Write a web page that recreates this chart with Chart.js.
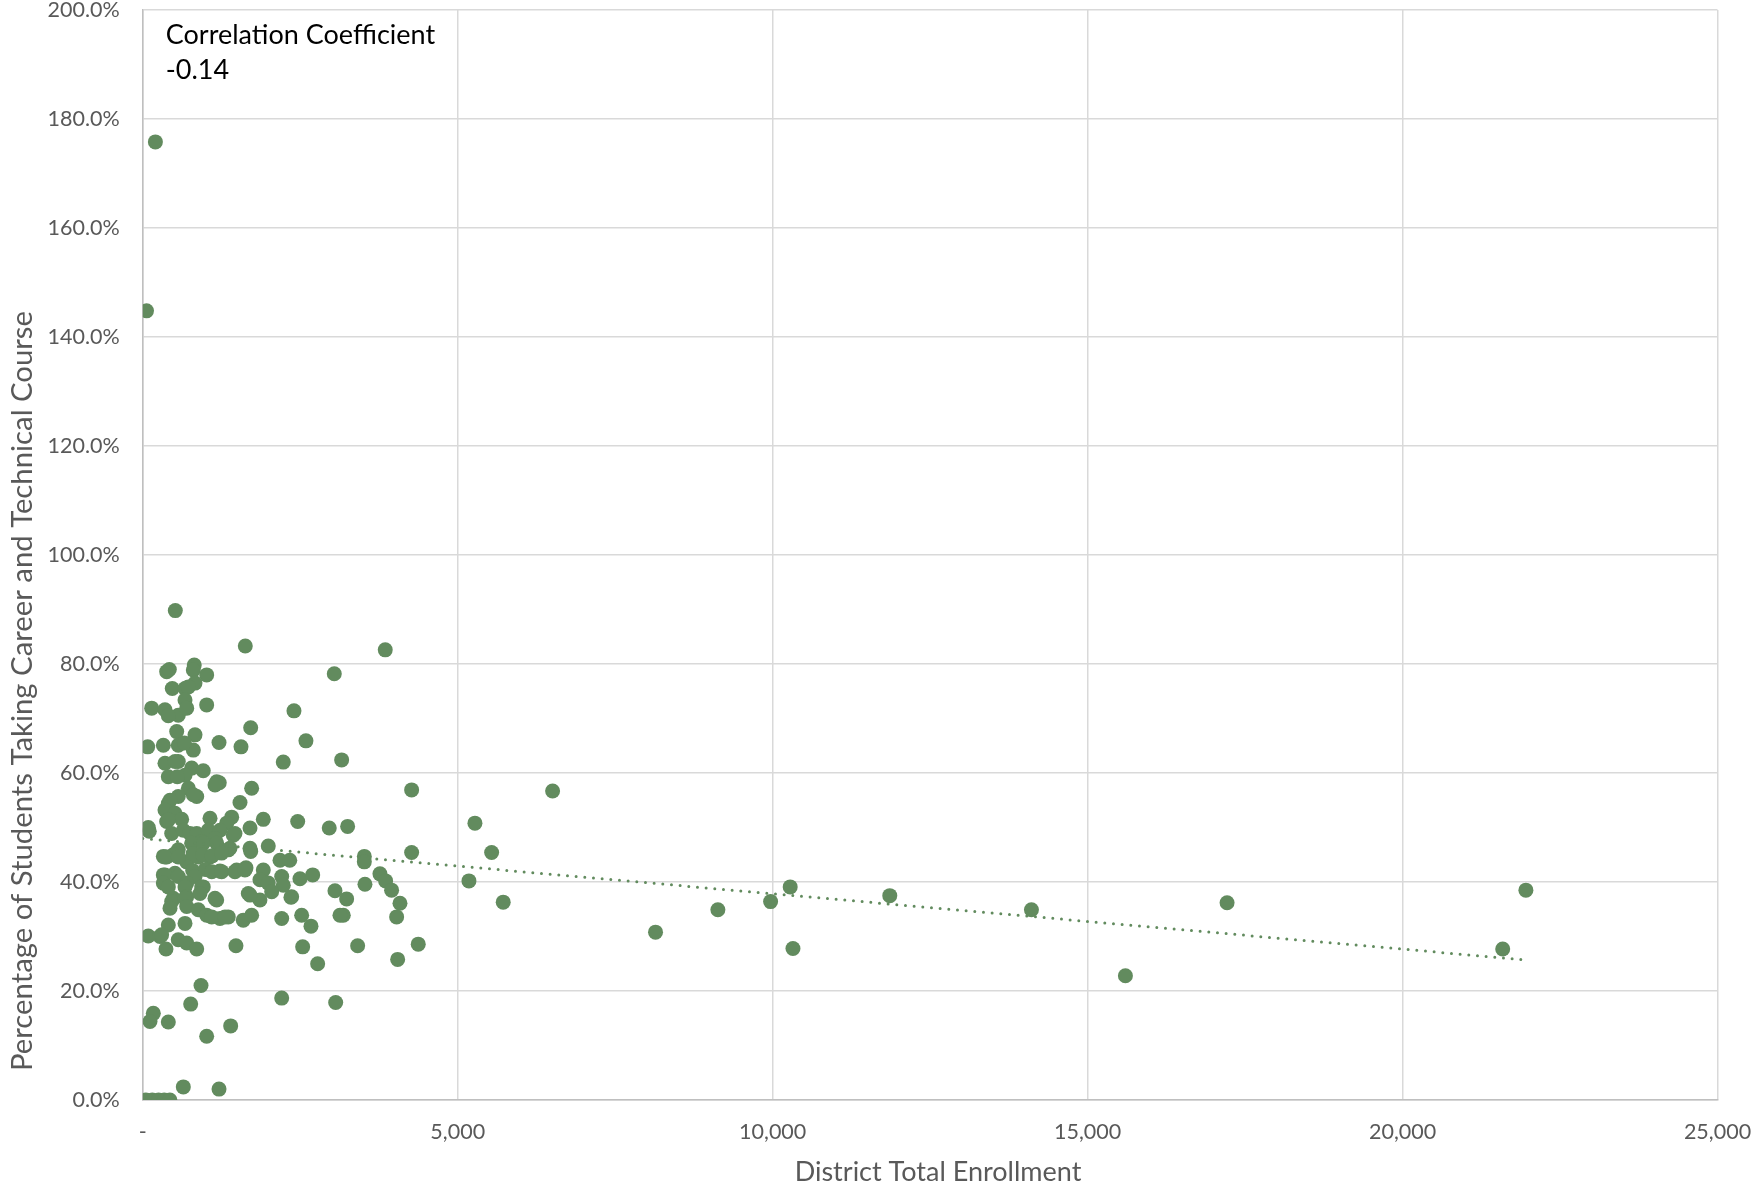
<!DOCTYPE html>
<html>
<head>
<meta charset="utf-8">
<script src="https://cdn.jsdelivr.net/npm/chart.js@4.4.1/dist/chart.umd.min.js"></script>
<style>
  html, body { margin: 0; padding: 0; background: #ffffff; }
  #wrap { width: 1753px; height: 1192px; }
</style>
</head>
<body>
<div id="wrap"><canvas id="chart" width="1753" height="1192"></canvas></div>
<script>
// District total enrollment (students)
const enrollment = [
  200, 59,
  516, 1627, 3849, 379, 421, 817, 802, 1014, 3040, 468, 670, 829, 723, 670,
  141, 352, 563, 697, 1014, 2400, 405,
  1713, 538, 829, 78, 326, 563, 802, 660, 1210, 1559, 2590, 2230, 3157,
  352, 563, 776, 960, 405, 670, 511, 548,
  1173, 1214, 1728, 723, 856, 4268, 6506, 1543, 405, 563, 802, 1146, 432, 352, 511, 379, 617,
  405, 1067, 1411, 1332, 1913, 2459, 5273, 87, 103, 1702, 2960, 3252,
  459, 643, 749, 856, 1040, 1225, 1437, 1463, 935, 1146, 776, 960, 1173, 1384, 1702, 1992,
  379, 563, 697, 881, 1067, 1357, 2178, 2333, 4268, 5538, 3517, 3517, 326, 484, 1713, 352, 563,
  800, 950, 1100, 1250,
  326, 511, 792, 992, 1225, 1490, 1638, 1913, 1860, 352, 563, 829, 1094, 1252, 1463, 1622,
  2205, 2495, 2697, 3765, 3855, 5178, 10278, 1992, 2230,
  326, 697, 960, 405, 670, 935,
  484, 697, 908, 1173, 1675, 1860, 2046, 2352, 3051, 3236, 3527, 3950, 4083, 1702, 2363,
  459, 670, 1146,
  432, 697, 881, 1014, 1225, 1357, 1595, 1728, 2205, 2522, 2670, 3183, 4030, 1094, 1305, 3130,
  405, 670,
  5722, 8140, 9130, 9967, 11859, 14108, 17214, 21958,
  87, 273, 299, 563,
  368, 697, 856, 1479, 2538, 3411, 4373, 4046, 2776, 10322, 21590, 15600, 924,
  760, 2205, 3062, 167, 114, 405, 1014, 1395, 643, 1210,
  50, 150, 250, 340, 430
];

// Percentage of students taking a career and technical course (%)
const ctePercent = [
  175.8, 144.8,
  89.8, 83.3, 82.6, 78.6, 79.0, 79.8, 78.9, 78.0, 78.2, 75.5, 75.5, 76.5, 75.8, 73.4,
  71.9, 71.6, 70.6, 71.9, 72.5, 71.4, 70.5,
  68.3, 67.6, 67.0, 64.8, 65.1, 65.1, 64.2, 65.5, 65.6, 64.8, 65.9, 62.0, 62.4,
  61.8, 62.1, 60.9, 60.4, 59.3, 59.6, 62.1, 59.3,
  58.4, 58.2, 57.2, 57.2, 55.7, 56.9, 56.7, 54.6, 54.4, 55.7, 56.0, 57.8, 55.0, 53.2, 52.6, 51.1, 51.5,
  51.4, 51.7, 51.9, 50.8, 51.5, 51.1, 50.8, 50.0, 49.3, 49.9, 49.9, 50.2,
  48.9, 49.5, 48.9, 48.9, 49.5, 49.5, 48.6, 48.9, 47.4, 48.0, 47.1, 47.1, 47.1, 46.2, 46.2, 46.6,
  44.6, 45.9, 43.7, 44.6, 44.6, 45.9, 44.0, 44.0, 45.4, 45.4, 44.7, 43.7, 44.7, 45.0, 45.6, 44.6, 44.6,
  45.2, 45.0, 44.8, 45.3,
  41.3, 41.6, 42.1, 42.3, 42.0, 42.2, 42.6, 42.2, 40.4, 41.3, 41.0, 41.0, 41.9, 41.9, 41.9, 42.2,
  41.0, 40.6, 41.3, 41.5, 40.2, 40.2, 39.1, 39.8, 39.4,
  39.8, 39.8, 39.1, 39.1, 39.1, 39.1,
  37.0, 37.3, 37.9, 36.7, 37.9, 36.7, 38.2, 37.2, 38.4, 36.9, 39.6, 38.5, 36.1, 37.6, 37.3,
  36.4, 37.0, 37.0,
  35.2, 35.5, 34.9, 33.9, 33.3, 33.6, 33.0, 33.9, 33.3, 33.9, 31.9, 33.9, 33.6, 33.6, 33.6, 33.9,
  32.1, 32.4,
  36.3, 30.8, 34.9, 36.4, 37.5, 34.9, 36.2, 38.5,
  30.1, 30.0, 30.3, 29.4,
  27.7, 28.8, 27.7, 28.3, 28.1, 28.3, 28.6, 25.8, 25.0, 27.8, 27.7, 22.8, 21.0,
  17.6, 18.7, 17.9, 15.9, 14.4, 14.3, 11.7, 13.6, 2.4, 2.0,
  0, 0, 0, 0, 0
];

// Linear trendline end points (enrollment, %)
const trendEnrollment = [0, 21958];
const trendPercent = [48.0, 25.7];

// Axis ticks
const xTicks = [0, 5000, 10000, 15000, 20000, 25000];
const yTicks = [0, 20, 40, 60, 80, 100, 120, 140, 160, 180, 200];

const correlationLines = ['Correlation Coefficient', '-0.14'];
const xTitle = 'District Total Enrollment';
const yTitle = 'Percentage of Students Taking Career and Technical Course';

const GREEN = '#628B5E';
const TICK_COLOR = '#595959';
const GRID_COLOR = '#D9D9D9';
const FONT = 'Lato, "Noto Sans", sans-serif';

const points = enrollment.map((x, i) => ({ x: x, y: ctePercent[i] }));
const trend = trendEnrollment.map((x, i) => ({ x: x, y: trendPercent[i] }));

// Axis titles and the correlation note in the top-left corner of the plot
const textPlugin = {
  id: 'extraText',
  afterDraw(chart) {
    const ctx = chart.ctx;
    const area = chart.chartArea;

    ctx.save();
    ctx.fillStyle = TICK_COLOR;
    ctx.font = '29.3px ' + FONT;
    ctx.textAlign = 'center';
    ctx.textBaseline = 'middle';
    ctx.translate(23, 691);
    ctx.rotate(-Math.PI / 2);
    ctx.fillText(yTitle, 0, 0);
    ctx.restore();

    ctx.save();
    ctx.fillStyle = TICK_COLOR;
    ctx.font = '27px ' + FONT;
    ctx.textAlign = 'center';
    ctx.textBaseline = 'middle';
    ctx.fillText(xTitle, 938, 1172);
    ctx.restore();

    ctx.save();
    ctx.fillStyle = '#000000';
    ctx.font = '27px ' + FONT;
    ctx.textAlign = 'left';
    ctx.textBaseline = 'middle';
    correlationLines.forEach((t, i) => {
      ctx.fillText(t, area.left + 23, 35 + i * 35);
    });
    ctx.restore();
  }
};

function noOverflowPadding(scale) {
  scale.paddingLeft = 0;
  scale.paddingRight = 0;
  scale.paddingTop = 0;
  scale.paddingBottom = 0;
}

new Chart(document.getElementById('chart'), {
  type: 'scatter',
  data: {
    datasets: [
      {
        label: 'Trend',
        data: trend,
        showLine: true,
        borderColor: GREEN,
        borderWidth: 3,
        borderDash: [0, 8.7],
        borderCapStyle: 'round',
        pointRadius: 0,
        fill: false,
        order: 0
      },
      {
        label: 'Districts',
        data: points,
        backgroundColor: GREEN,
        borderWidth: 0,
        pointRadius: 7.5,
        pointHoverRadius: 7.5,
        order: 1
      }
    ]
  },
  options: {
    responsive: false,
    animation: false,
    devicePixelRatio: 1,
    layout: { padding: { left: 0, right: 35.5, top: 10, bottom: 0 } },
    plugins: {
      legend: { display: false },
      tooltip: { enabled: false }
    },
    scales: {
      x: {
        type: 'linear',
        min: 0,
        max: 25000,
        afterBuildTicks(scale) { scale.ticks = xTicks.map(v => ({ value: v })); },
        afterFit(scale) { scale.height = 92; noOverflowPadding(scale); },
        grid: { color: GRID_COLOR, lineWidth: 1.5, drawTicks: false },
        border: { color: '#BFBFBF', width: 1.5 },
        ticks: {
          color: TICK_COLOR,
          font: { family: FONT, size: 21.5 },
          padding: 19,
          maxRotation: 0,
          callback: v => v === 0 ? '-' : v.toLocaleString('en-US')
        }
      },
      y: {
        type: 'linear',
        min: 0,
        max: 200,
        afterBuildTicks(scale) { scale.ticks = yTicks.map(v => ({ value: v })); },
        afterFit(scale) { scale.width = 142.8; noOverflowPadding(scale); },
        grid: { color: GRID_COLOR, lineWidth: 1.5, drawTicks: false },
        border: { color: '#BFBFBF', width: 1.5 },
        ticks: {
          color: TICK_COLOR,
          font: { family: FONT, size: 21.5 },
          padding: 23,
          callback: v => v.toFixed(1) + '%'
        }
      }
    }
  },
  plugins: [textPlugin]
});
</script>
</body>
</html>
